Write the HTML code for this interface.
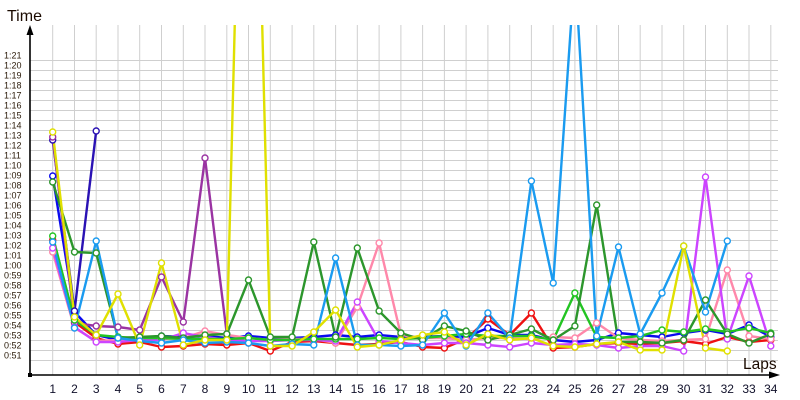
<!DOCTYPE html>
<html><head><meta charset="utf-8"><style>
html,body{margin:0;padding:0;background:#fff;}
svg{display:block;}
text{font-family:"Liberation Sans",sans-serif;}
</style></head><body>
<svg width="800" height="400" viewBox="0 0 800 400" xmlns="http://www.w3.org/2000/svg">
<defs><clipPath id="pc"><rect x="30" y="25" width="760" height="350"/></clipPath></defs>
<rect width="800" height="400" fill="#fff"/>
<g stroke="#cfcfcf" stroke-width="1">
<line x1="30" y1="60.5" x2="778" y2="60.5"/><line x1="30" y1="70.5" x2="778" y2="70.5"/><line x1="30" y1="80.5" x2="778" y2="80.5"/><line x1="30" y1="90.5" x2="778" y2="90.5"/><line x1="30" y1="100.5" x2="778" y2="100.5"/><line x1="30" y1="110.5" x2="778" y2="110.5"/><line x1="30" y1="120.5" x2="778" y2="120.5"/><line x1="30" y1="130.5" x2="778" y2="130.5"/><line x1="30" y1="140.5" x2="778" y2="140.5"/><line x1="30" y1="150.5" x2="778" y2="150.5"/><line x1="30" y1="160.5" x2="778" y2="160.5"/><line x1="30" y1="170.5" x2="778" y2="170.5"/><line x1="30" y1="180.5" x2="778" y2="180.5"/><line x1="30" y1="190.5" x2="778" y2="190.5"/><line x1="30" y1="200.5" x2="778" y2="200.5"/><line x1="30" y1="210.5" x2="778" y2="210.5"/><line x1="30" y1="220.5" x2="778" y2="220.5"/><line x1="30" y1="230.5" x2="778" y2="230.5"/><line x1="30" y1="240.5" x2="778" y2="240.5"/><line x1="30" y1="250.5" x2="778" y2="250.5"/><line x1="30" y1="260.5" x2="778" y2="260.5"/><line x1="30" y1="270.5" x2="778" y2="270.5"/><line x1="30" y1="280.5" x2="778" y2="280.5"/><line x1="30" y1="290.5" x2="778" y2="290.5"/><line x1="30" y1="300.5" x2="778" y2="300.5"/><line x1="30" y1="310.5" x2="778" y2="310.5"/><line x1="30" y1="320.5" x2="778" y2="320.5"/><line x1="30" y1="330.5" x2="778" y2="330.5"/><line x1="30" y1="340.5" x2="778" y2="340.5"/><line x1="30" y1="350.5" x2="778" y2="350.5"/><line x1="30" y1="360.5" x2="778" y2="360.5"/>
<line x1="52.7" y1="25" x2="52.7" y2="375"/><line x1="74.5" y1="25" x2="74.5" y2="375"/><line x1="96.2" y1="25" x2="96.2" y2="375"/><line x1="118" y1="25" x2="118" y2="375"/><line x1="139.7" y1="25" x2="139.7" y2="375"/><line x1="161.5" y1="25" x2="161.5" y2="375"/><line x1="183.3" y1="25" x2="183.3" y2="375"/><line x1="205" y1="25" x2="205" y2="375"/><line x1="226.8" y1="25" x2="226.8" y2="375"/><line x1="248.5" y1="25" x2="248.5" y2="375"/><line x1="270.3" y1="25" x2="270.3" y2="375"/><line x1="292.1" y1="25" x2="292.1" y2="375"/><line x1="313.8" y1="25" x2="313.8" y2="375"/><line x1="335.6" y1="25" x2="335.6" y2="375"/><line x1="357.3" y1="25" x2="357.3" y2="375"/><line x1="379.1" y1="25" x2="379.1" y2="375"/><line x1="400.9" y1="25" x2="400.9" y2="375"/><line x1="422.6" y1="25" x2="422.6" y2="375"/><line x1="444.4" y1="25" x2="444.4" y2="375"/><line x1="466.1" y1="25" x2="466.1" y2="375"/><line x1="487.9" y1="25" x2="487.9" y2="375"/><line x1="509.7" y1="25" x2="509.7" y2="375"/><line x1="531.4" y1="25" x2="531.4" y2="375"/><line x1="553.2" y1="25" x2="553.2" y2="375"/><line x1="574.9" y1="25" x2="574.9" y2="375"/><line x1="596.7" y1="25" x2="596.7" y2="375"/><line x1="618.5" y1="25" x2="618.5" y2="375"/><line x1="640.2" y1="25" x2="640.2" y2="375"/><line x1="662" y1="25" x2="662" y2="375"/><line x1="683.7" y1="25" x2="683.7" y2="375"/><line x1="705.5" y1="25" x2="705.5" y2="375"/><line x1="727.3" y1="25" x2="727.3" y2="375"/><line x1="749" y1="25" x2="749" y2="375"/><line x1="770.8" y1="25" x2="770.8" y2="375"/>
</g>

<g clip-path="url(#pc)" fill="none" stroke-width="2.4" stroke-linejoin="round">
<!-- red -->
<polyline stroke="#ee1111" points="52.7,240 74.5,322 96.2,338 118,344 139.7,342 161.5,347 183.3,346 205,344 226.8,345 248.5,343 270.3,351 292.1,342 313.8,341 335.6,343 357.3,345 379.1,344 400.9,342 422.6,347 444.4,348 466.1,339 487.9,319 509.7,335 531.4,313 553.2,348 574.9,347 596.7,344 618.5,343 640.2,344 662,343 683.7,341 705.5,344 727.3,337 749,342 770.8,340"/>
<!-- blue -->
<polyline stroke="#0a0aee" points="52.7,176 74.5,312 96.2,335 118,340 139.7,338 161.5,336 183.3,337 205,336 226.8,338 248.5,336 270.3,338 292.1,338 313.8,337 335.6,335 357.3,337 379.1,335 400.9,337 422.6,337 444.4,336 466.1,337 487.9,328 509.7,335 531.4,335 553.2,340 574.9,342 596.7,340 618.5,333 640.2,335 662,337 683.7,333 705.5,330 727.3,334 749,325 770.8,337"/>
<!-- indigo -->
<polyline stroke="#2a12b4" points="52.7,140 74.5,311 96.2,131"/>
<!-- purple -->
<polyline stroke="#9a33a2" points="52.7,137 74.5,323 96.2,326 118,327 139.7,330 161.5,277 183.3,322 205,158 226.8,334"/>
<!-- pink -->
<polyline stroke="#ff88aa" points="52.7,252 74.5,328 96.2,341 118,340 139.7,339 161.5,339 183.3,338 205,331 226.8,335 248.5,338 270.3,340 292.1,339 313.8,339 335.6,343 357.3,307 379.1,243 400.9,335 422.6,338 444.4,338 466.1,340 487.9,338 509.7,338 531.4,339 553.2,337 574.9,338 596.7,323 618.5,338 640.2,340 662,341 683.7,340 705.5,339 727.3,270 749,336 770.8,339"/>
<!-- magenta -->
<polyline stroke="#cc44ff" points="52.7,248 74.5,327 96.2,342 118,342 139.7,340 161.5,340 183.3,333 205,337 226.8,340 248.5,341 270.3,341 292.1,340 313.8,340 335.6,341 357.3,302 379.1,341 400.9,343 422.6,345 444.4,343 466.1,343 487.9,345 509.7,347 531.4,343 553.2,345 574.9,344 596.7,345 618.5,348 640.2,346 662,346 683.7,351 705.5,177 727.3,339 749,276 770.8,346"/>
<!-- green -->
<polyline stroke="#22c422" points="52.7,236 74.5,320 96.2,335 118,337 139.7,338 161.5,338 183.3,339 205,339 226.8,339 248.5,338 270.3,340 292.1,340 313.8,339 335.6,339 357.3,339 379.1,338 400.9,339 422.6,338 444.4,336 466.1,334 487.9,336 509.7,336 531.4,336 553.2,340 574.9,293 596.7,337 618.5,338 640.2,336 662,330 683.7,332 705.5,329 727.3,332 749,328 770.8,333"/>
<!-- dark green -->
<polyline stroke="#2c962c" points="52.7,182 74.5,252 96.2,253 118,338 139.7,337 161.5,336 183.3,338 205,335 226.8,334 248.5,280 270.3,337 292.1,337 313.8,242 335.6,337 357.3,248 379.1,311 400.9,333 422.6,340 444.4,326 466.1,331 487.9,340 509.7,335 531.4,329 553.2,340 574.9,326 596.7,205 618.5,342 640.2,342 662,343 683.7,340 705.5,300 727.3,334 749,343 770.8,334"/>
<!-- light blue -->
<polyline stroke="#1a9bf0" points="52.7,242 74.5,328 96.2,241 118,338 139.7,341 161.5,343 183.3,340 205,343 226.8,342 248.5,343 270.3,346 292.1,344 313.8,345 335.6,258 357.3,345 379.1,345 400.9,346 422.6,345 444.4,313 466.1,346 487.9,313 509.7,338 531.4,181 553.2,283 574.9,-32 596.7,336 618.5,247 640.2,334 662,293 683.7,246 705.5,312 727.3,241"/>
<!-- yellow -->
<polyline stroke="#e0e000" points="52.7,132 74.5,317 96.2,335 118,294 139.7,345 161.5,263 183.3,345 205,340 226.8,340 248.5,-520 270.3,346 292.1,346 313.8,332 335.6,310 357.3,347 379.1,345 400.9,340 422.6,335 444.4,332 466.1,345 487.9,334 509.7,340 531.4,338 553.2,346 574.9,347 596.7,344 618.5,342 640.2,350 662,350 683.7,246 705.5,348 727.3,351"/>
</g>

<g clip-path="url(#pc)" fill="#fff" stroke-width="1.4">
<g stroke="#ee1111"><circle cx="52.7" cy="240" r="3"/><circle cx="74.5" cy="322" r="3"/><circle cx="96.2" cy="338" r="3"/><circle cx="118" cy="344" r="3"/><circle cx="139.7" cy="342" r="3"/><circle cx="161.5" cy="347" r="3"/><circle cx="183.3" cy="346" r="3"/><circle cx="205" cy="344" r="3"/><circle cx="226.8" cy="345" r="3"/><circle cx="248.5" cy="343" r="3"/><circle cx="270.3" cy="351" r="3"/><circle cx="292.1" cy="342" r="3"/><circle cx="313.8" cy="341" r="3"/><circle cx="335.6" cy="343" r="3"/><circle cx="357.3" cy="345" r="3"/><circle cx="379.1" cy="344" r="3"/><circle cx="400.9" cy="342" r="3"/><circle cx="422.6" cy="347" r="3"/><circle cx="444.4" cy="348" r="3"/><circle cx="466.1" cy="339" r="3"/><circle cx="487.9" cy="319" r="3"/><circle cx="509.7" cy="335" r="3"/><circle cx="531.4" cy="313" r="3"/><circle cx="553.2" cy="348" r="3"/><circle cx="574.9" cy="347" r="3"/><circle cx="596.7" cy="344" r="3"/><circle cx="618.5" cy="343" r="3"/><circle cx="640.2" cy="344" r="3"/><circle cx="662" cy="343" r="3"/><circle cx="683.7" cy="341" r="3"/><circle cx="705.5" cy="344" r="3"/><circle cx="727.3" cy="337" r="3"/><circle cx="749" cy="342" r="3"/><circle cx="770.8" cy="340" r="3"/></g>
<g stroke="#0a0aee"><circle cx="52.7" cy="176" r="3"/><circle cx="74.5" cy="312" r="3"/><circle cx="96.2" cy="335" r="3"/><circle cx="118" cy="340" r="3"/><circle cx="139.7" cy="338" r="3"/><circle cx="161.5" cy="336" r="3"/><circle cx="183.3" cy="337" r="3"/><circle cx="205" cy="336" r="3"/><circle cx="226.8" cy="338" r="3"/><circle cx="248.5" cy="336" r="3"/><circle cx="270.3" cy="338" r="3"/><circle cx="292.1" cy="338" r="3"/><circle cx="313.8" cy="337" r="3"/><circle cx="335.6" cy="335" r="3"/><circle cx="357.3" cy="337" r="3"/><circle cx="379.1" cy="335" r="3"/><circle cx="400.9" cy="337" r="3"/><circle cx="422.6" cy="337" r="3"/><circle cx="444.4" cy="336" r="3"/><circle cx="466.1" cy="337" r="3"/><circle cx="487.9" cy="328" r="3"/><circle cx="509.7" cy="335" r="3"/><circle cx="531.4" cy="335" r="3"/><circle cx="553.2" cy="340" r="3"/><circle cx="574.9" cy="342" r="3"/><circle cx="596.7" cy="340" r="3"/><circle cx="618.5" cy="333" r="3"/><circle cx="640.2" cy="335" r="3"/><circle cx="662" cy="337" r="3"/><circle cx="683.7" cy="333" r="3"/><circle cx="705.5" cy="330" r="3"/><circle cx="727.3" cy="334" r="3"/><circle cx="749" cy="325" r="3"/><circle cx="770.8" cy="337" r="3"/></g>
<g stroke="#2a12b4"><circle cx="52.7" cy="140" r="3"/><circle cx="74.5" cy="311" r="3"/><circle cx="96.2" cy="131" r="3"/></g>
<g stroke="#9a33a2"><circle cx="52.7" cy="137" r="3"/><circle cx="74.5" cy="323" r="3"/><circle cx="96.2" cy="326" r="3"/><circle cx="118" cy="327" r="3"/><circle cx="139.7" cy="330" r="3"/><circle cx="161.5" cy="277" r="3"/><circle cx="183.3" cy="322" r="3"/><circle cx="205" cy="158" r="3"/><circle cx="226.8" cy="334" r="3"/></g>
<g stroke="#ff88aa"><circle cx="52.7" cy="252" r="3"/><circle cx="74.5" cy="328" r="3"/><circle cx="96.2" cy="341" r="3"/><circle cx="118" cy="340" r="3"/><circle cx="139.7" cy="339" r="3"/><circle cx="161.5" cy="339" r="3"/><circle cx="183.3" cy="338" r="3"/><circle cx="205" cy="331" r="3"/><circle cx="226.8" cy="335" r="3"/><circle cx="248.5" cy="338" r="3"/><circle cx="270.3" cy="340" r="3"/><circle cx="292.1" cy="339" r="3"/><circle cx="313.8" cy="339" r="3"/><circle cx="335.6" cy="343" r="3"/><circle cx="357.3" cy="307" r="3"/><circle cx="379.1" cy="243" r="3"/><circle cx="400.9" cy="335" r="3"/><circle cx="422.6" cy="338" r="3"/><circle cx="444.4" cy="338" r="3"/><circle cx="466.1" cy="340" r="3"/><circle cx="487.9" cy="338" r="3"/><circle cx="509.7" cy="338" r="3"/><circle cx="531.4" cy="339" r="3"/><circle cx="553.2" cy="337" r="3"/><circle cx="574.9" cy="338" r="3"/><circle cx="596.7" cy="323" r="3"/><circle cx="618.5" cy="338" r="3"/><circle cx="640.2" cy="340" r="3"/><circle cx="662" cy="341" r="3"/><circle cx="683.7" cy="340" r="3"/><circle cx="705.5" cy="339" r="3"/><circle cx="727.3" cy="270" r="3"/><circle cx="749" cy="336" r="3"/><circle cx="770.8" cy="339" r="3"/></g>
<g stroke="#cc44ff"><circle cx="52.7" cy="248" r="3"/><circle cx="74.5" cy="327" r="3"/><circle cx="96.2" cy="342" r="3"/><circle cx="118" cy="342" r="3"/><circle cx="139.7" cy="340" r="3"/><circle cx="161.5" cy="340" r="3"/><circle cx="183.3" cy="333" r="3"/><circle cx="205" cy="337" r="3"/><circle cx="226.8" cy="340" r="3"/><circle cx="248.5" cy="341" r="3"/><circle cx="270.3" cy="341" r="3"/><circle cx="292.1" cy="340" r="3"/><circle cx="313.8" cy="340" r="3"/><circle cx="335.6" cy="341" r="3"/><circle cx="357.3" cy="302" r="3"/><circle cx="379.1" cy="341" r="3"/><circle cx="400.9" cy="343" r="3"/><circle cx="422.6" cy="345" r="3"/><circle cx="444.4" cy="343" r="3"/><circle cx="466.1" cy="343" r="3"/><circle cx="487.9" cy="345" r="3"/><circle cx="509.7" cy="347" r="3"/><circle cx="531.4" cy="343" r="3"/><circle cx="553.2" cy="345" r="3"/><circle cx="574.9" cy="344" r="3"/><circle cx="596.7" cy="345" r="3"/><circle cx="618.5" cy="348" r="3"/><circle cx="640.2" cy="346" r="3"/><circle cx="662" cy="346" r="3"/><circle cx="683.7" cy="351" r="3"/><circle cx="705.5" cy="177" r="3"/><circle cx="727.3" cy="339" r="3"/><circle cx="749" cy="276" r="3"/><circle cx="770.8" cy="346" r="3"/></g>
<g stroke="#22c422"><circle cx="52.7" cy="236" r="3"/><circle cx="74.5" cy="320" r="3"/><circle cx="96.2" cy="335" r="3"/><circle cx="118" cy="337" r="3"/><circle cx="139.7" cy="338" r="3"/><circle cx="161.5" cy="338" r="3"/><circle cx="183.3" cy="339" r="3"/><circle cx="205" cy="339" r="3"/><circle cx="226.8" cy="339" r="3"/><circle cx="248.5" cy="338" r="3"/><circle cx="270.3" cy="340" r="3"/><circle cx="292.1" cy="340" r="3"/><circle cx="313.8" cy="339" r="3"/><circle cx="335.6" cy="339" r="3"/><circle cx="357.3" cy="339" r="3"/><circle cx="379.1" cy="338" r="3"/><circle cx="400.9" cy="339" r="3"/><circle cx="422.6" cy="338" r="3"/><circle cx="444.4" cy="336" r="3"/><circle cx="466.1" cy="334" r="3"/><circle cx="487.9" cy="336" r="3"/><circle cx="509.7" cy="336" r="3"/><circle cx="531.4" cy="336" r="3"/><circle cx="553.2" cy="340" r="3"/><circle cx="574.9" cy="293" r="3"/><circle cx="596.7" cy="337" r="3"/><circle cx="618.5" cy="338" r="3"/><circle cx="640.2" cy="336" r="3"/><circle cx="662" cy="330" r="3"/><circle cx="683.7" cy="332" r="3"/><circle cx="705.5" cy="329" r="3"/><circle cx="727.3" cy="332" r="3"/><circle cx="749" cy="328" r="3"/><circle cx="770.8" cy="333" r="3"/></g>
<g stroke="#2c962c"><circle cx="52.7" cy="182" r="3"/><circle cx="74.5" cy="252" r="3"/><circle cx="96.2" cy="253" r="3"/><circle cx="118" cy="338" r="3"/><circle cx="139.7" cy="337" r="3"/><circle cx="161.5" cy="336" r="3"/><circle cx="183.3" cy="338" r="3"/><circle cx="205" cy="335" r="3"/><circle cx="226.8" cy="334" r="3"/><circle cx="248.5" cy="280" r="3"/><circle cx="270.3" cy="337" r="3"/><circle cx="292.1" cy="337" r="3"/><circle cx="313.8" cy="242" r="3"/><circle cx="335.6" cy="337" r="3"/><circle cx="357.3" cy="248" r="3"/><circle cx="379.1" cy="311" r="3"/><circle cx="400.9" cy="333" r="3"/><circle cx="422.6" cy="340" r="3"/><circle cx="444.4" cy="326" r="3"/><circle cx="466.1" cy="331" r="3"/><circle cx="487.9" cy="340" r="3"/><circle cx="509.7" cy="335" r="3"/><circle cx="531.4" cy="329" r="3"/><circle cx="553.2" cy="340" r="3"/><circle cx="574.9" cy="326" r="3"/><circle cx="596.7" cy="205" r="3"/><circle cx="618.5" cy="342" r="3"/><circle cx="640.2" cy="342" r="3"/><circle cx="662" cy="343" r="3"/><circle cx="683.7" cy="340" r="3"/><circle cx="705.5" cy="300" r="3"/><circle cx="727.3" cy="334" r="3"/><circle cx="749" cy="343" r="3"/><circle cx="770.8" cy="334" r="3"/></g>
<g stroke="#1a9bf0"><circle cx="52.7" cy="242" r="3"/><circle cx="74.5" cy="328" r="3"/><circle cx="96.2" cy="241" r="3"/><circle cx="118" cy="338" r="3"/><circle cx="139.7" cy="341" r="3"/><circle cx="161.5" cy="343" r="3"/><circle cx="183.3" cy="340" r="3"/><circle cx="205" cy="343" r="3"/><circle cx="226.8" cy="342" r="3"/><circle cx="248.5" cy="343" r="3"/><circle cx="270.3" cy="346" r="3"/><circle cx="292.1" cy="344" r="3"/><circle cx="313.8" cy="345" r="3"/><circle cx="335.6" cy="258" r="3"/><circle cx="357.3" cy="345" r="3"/><circle cx="379.1" cy="345" r="3"/><circle cx="400.9" cy="346" r="3"/><circle cx="422.6" cy="345" r="3"/><circle cx="444.4" cy="313" r="3"/><circle cx="466.1" cy="346" r="3"/><circle cx="487.9" cy="313" r="3"/><circle cx="509.7" cy="338" r="3"/><circle cx="531.4" cy="181" r="3"/><circle cx="553.2" cy="283" r="3"/><circle cx="596.7" cy="336" r="3"/><circle cx="618.5" cy="247" r="3"/><circle cx="640.2" cy="334" r="3"/><circle cx="662" cy="293" r="3"/><circle cx="683.7" cy="246" r="3"/><circle cx="705.5" cy="312" r="3"/><circle cx="727.3" cy="241" r="3"/></g>
<g stroke="#e0e000"><circle cx="52.7" cy="132" r="3"/><circle cx="74.5" cy="317" r="3"/><circle cx="96.2" cy="335" r="3"/><circle cx="118" cy="294" r="3"/><circle cx="139.7" cy="345" r="3"/><circle cx="161.5" cy="263" r="3"/><circle cx="183.3" cy="345" r="3"/><circle cx="205" cy="340" r="3"/><circle cx="226.8" cy="340" r="3"/><circle cx="270.3" cy="346" r="3"/><circle cx="292.1" cy="346" r="3"/><circle cx="313.8" cy="332" r="3"/><circle cx="335.6" cy="310" r="3"/><circle cx="357.3" cy="347" r="3"/><circle cx="379.1" cy="345" r="3"/><circle cx="400.9" cy="340" r="3"/><circle cx="422.6" cy="335" r="3"/><circle cx="444.4" cy="332" r="3"/><circle cx="466.1" cy="345" r="3"/><circle cx="487.9" cy="334" r="3"/><circle cx="509.7" cy="340" r="3"/><circle cx="531.4" cy="338" r="3"/><circle cx="553.2" cy="346" r="3"/><circle cx="574.9" cy="347" r="3"/><circle cx="596.7" cy="344" r="3"/><circle cx="618.5" cy="342" r="3"/><circle cx="640.2" cy="350" r="3"/><circle cx="662" cy="350" r="3"/><circle cx="683.7" cy="246" r="3"/><circle cx="705.5" cy="348" r="3"/><circle cx="727.3" cy="351" r="3"/></g>
</g>

<!-- axes -->
<g stroke="#000" stroke-width="1.6">
<line x1="30" y1="375" x2="30" y2="32"/>
<line x1="30" y1="375" x2="771" y2="375"/>
</g>
<polygon points="30,25 26.5,35 33.5,35" fill="#000"/>
<polygon points="780,375 769,371.5 769,378.5" fill="#000"/>
<rect x="28" y="373" width="4" height="4" fill="#000"/>
<text x="7" y="21" font-size="16" fill="#1a0a00">Time</text>
<text x="743" y="369" font-size="15.5" fill="#1a0a00">Laps</text>

<g font-size="9" fill="#2a1a08">
<text x="4" y="58.5">1:21</text><text x="4" y="68.5">1:20</text><text x="4" y="78.5">1:19</text><text x="4" y="88.5">1:18</text><text x="4" y="98.5">1:17</text><text x="4" y="108.5">1:16</text><text x="4" y="118.5">1:15</text><text x="4" y="128.5">1:14</text><text x="4" y="138.5">1:13</text><text x="4" y="148.5">1:12</text><text x="4" y="158.5">1:11</text><text x="4" y="168.5">1:10</text><text x="4" y="178.5">1:09</text><text x="4" y="188.5">1:08</text><text x="4" y="198.5">1:07</text><text x="4" y="208.5">1:06</text><text x="4" y="218.5">1:05</text><text x="4" y="228.5">1:04</text><text x="4" y="238.5">1:03</text><text x="4" y="248.5">1:02</text><text x="4" y="258.5">1:01</text><text x="4" y="268.5">1:00</text><text x="4" y="278.5">0:59</text><text x="4" y="288.5">0:58</text><text x="4" y="298.5">0:57</text><text x="4" y="308.5">0:56</text><text x="4" y="318.5">0:55</text><text x="4" y="328.5">0:54</text><text x="4" y="338.5">0:53</text><text x="4" y="348.5">0:52</text><text x="4" y="358.5">0:51</text>
</g>
<g font-size="12" fill="#10102a" text-anchor="middle">
<text x="52.7" y="393">1</text><text x="74.5" y="393">2</text><text x="96.2" y="393">3</text><text x="118" y="393">4</text><text x="139.7" y="393">5</text><text x="161.5" y="393">6</text><text x="183.3" y="393">7</text><text x="205" y="393">8</text><text x="226.8" y="393">9</text><text x="248.5" y="393">10</text><text x="270.3" y="393">11</text><text x="292.1" y="393">12</text><text x="313.8" y="393">13</text><text x="335.6" y="393">14</text><text x="357.3" y="393">15</text><text x="379.1" y="393">16</text><text x="400.9" y="393">17</text><text x="422.6" y="393">18</text><text x="444.4" y="393">19</text><text x="466.1" y="393">20</text><text x="487.9" y="393">21</text><text x="509.7" y="393">22</text><text x="531.4" y="393">23</text><text x="553.2" y="393">24</text><text x="574.9" y="393">25</text><text x="596.7" y="393">26</text><text x="618.5" y="393">27</text><text x="640.2" y="393">28</text><text x="662" y="393">29</text><text x="683.7" y="393">30</text><text x="705.5" y="393">31</text><text x="727.3" y="393">32</text><text x="749" y="393">33</text><text x="770.8" y="393">34</text>
</g>
</svg>
</body></html>
